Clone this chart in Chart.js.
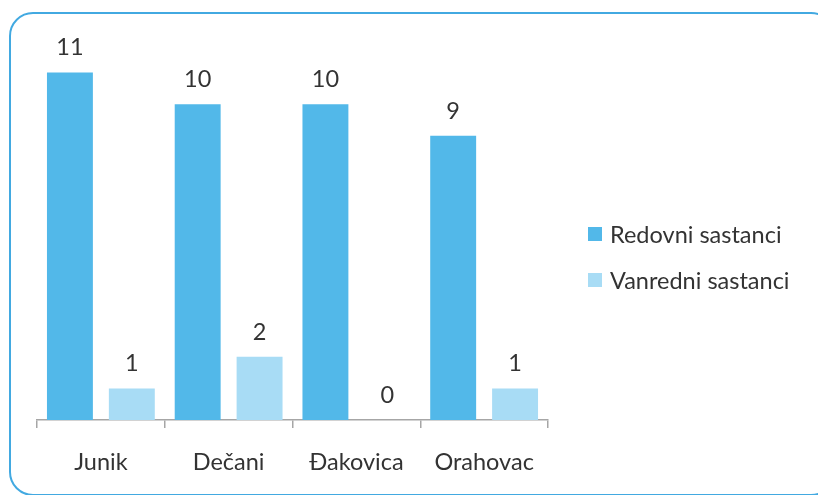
<!DOCTYPE html>
<html>
<head>
<meta charset="utf-8">
<script src="https://cdn.jsdelivr.net/npm/chart.js@4.4.0/dist/chart.umd.min.js"></script>
<style>
  html, body { margin: 0; padding: 0; background: #fff; overflow: hidden; }
  #wrap { position: relative; width: 818px; height: 495px; }
  #frame {
    position: absolute; left: 9px; top: 12px; width: 826px; height: 484px;
    border: 2.5px solid #42a9e1; border-radius: 24px; box-sizing: border-box;
  }
  #chart { position: absolute; left: 0; top: 0; }
  #legend { position: absolute; left: 588px; top: 220px; font-family: Lato, "Open Sans", sans-serif; font-size: 23.5px; color: #333; }
  #legend div { display: flex; align-items: center; height: 28px; margin-bottom: 18px; }
  #legend span.box { display: inline-block; width: 14px; height: 14px; margin-right: 8px; }
</style>
</head>
<body>
<div id="wrap">
  <div id="frame"></div>
  <canvas id="chart" width="818" height="495"></canvas>
  <div id="legend"></div>
</div>
<script>
const categories = ['Junik', 'Dečani', 'Đakovica', 'Orahovac'];
const redovni = [11, 10, 10, 9];
const vanredni = [1, 2, 0, 1];
const seriesNames = ['Redovni sastanci', 'Vanredni sastanci'];
const seriesColors = ['#52b8e9', '#a8dcf5'];
const fontFamily = 'Lato, "Open Sans", sans-serif';

// numbers above each bar
const valueLabels = {
  id: 'valueLabels',
  afterDatasetsDraw(chart) {
    const ctx = chart.ctx;
    ctx.save();
    ctx.font = '23.5px ' + fontFamily;
    ctx.fillStyle = '#333';
    ctx.textAlign = 'center';
    ctx.textBaseline = 'bottom';
    chart.data.datasets.forEach((ds, i) => {
      chart.getDatasetMeta(i).data.forEach((bar, j) => {
        ctx.fillText(String(ds.data[j]), bar.x, bar.y - 13);
      });
    });
    ctx.restore();
  }
};

const chart = new Chart(document.getElementById('chart').getContext('2d'), {
  type: 'bar',
  data: {
    labels: categories,
    datasets: [
      { label: seriesNames[0], data: redovni, backgroundColor: seriesColors[0] },
      { label: seriesNames[1], data: vanredni, backgroundColor: seriesColors[1] }
    ]
  },
  options: {
    responsive: false,
    animation: false,
    layout: { padding: { left: 37, right: 270, top: 41, bottom: 0 } },
    datasets: { bar: { categoryPercentage: 0.969, barPercentage: 0.742 } },
    plugins: { legend: { display: false }, tooltip: { enabled: false } },
    scales: {
      y: { display: false, min: 0, max: 12 },
      x: {
        afterFit(scale) { scale.height = 75; },
        border: { color: '#a6a6a6', width: 1.5 },
        grid: { offset: true, drawOnChartArea: false, drawTicks: true, tickLength: 8, color: '#a6a6a6', lineWidth: 1.5 },
        ticks: { color: '#333', padding: 20, font: { family: fontFamily, size: 23.5 } }
      }
    }
  },
  plugins: [valueLabels]
});

const legendEl = document.getElementById('legend');
chart.data.datasets.forEach(ds => {
  const row = document.createElement('div');
  const box = document.createElement('span');
  box.className = 'box';
  box.style.background = ds.backgroundColor;
  row.appendChild(box);
  row.appendChild(document.createTextNode(ds.label));
  legendEl.appendChild(row);
});
</script>
</body>
</html>
